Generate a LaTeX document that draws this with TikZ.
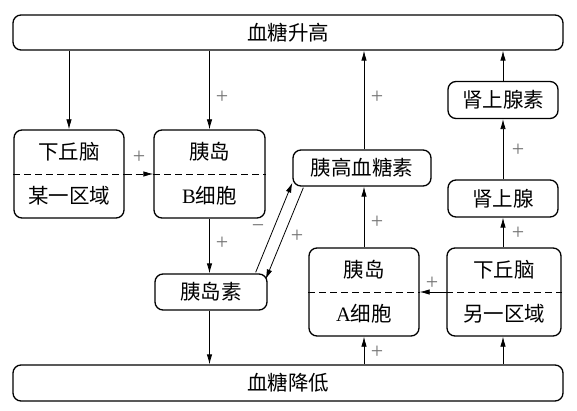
\documentclass[tikz,border=0pt]{standalone}
\usepackage{fontspec}
\setmainfont{Liberation Serif}
\newfontfamily\cjk{Noto Sans CJK SC}
\usetikzlibrary{arrows.meta,calc}
\begin{document}
\begin{tikzpicture}[x=1pt,y=-1pt,
  box/.style={draw, rounded corners=8pt, line width=1.3pt, inner sep=0pt},
  lbl/.style={inner sep=0pt, font=\fontsize{20.5}{20.5}\selectfont},
  arr/.style={-{Latex[length=10pt,width=5.5pt]}, line width=0.8pt},
  sign/.style={inner sep=0pt, text=black!55, font=\fontsize{22}{22}\selectfont},
  half/.style={line width=0.8pt, dash pattern=on 7pt off 4pt}]
\useasboundingbox (0,0) rectangle (577,411);
% boxes
\node[box, minimum width=550pt, minimum height=35pt] (top) at (288,32.5) {};
\node[lbl] at (top) {\cjk 血糖升高};
\node[box, minimum width=550pt, minimum height=36pt] (bot) at (288,383) {};
\node[lbl] at (bot) {\cjk 血糖降低};
\node[box, minimum width=110pt, minimum height=88pt] (hyp1) at (69,174) {};
\node[lbl] (hyp1a) at (69,152) {\cjk 下丘脑};
\node[lbl] (hyp1b) at (69,196) {\cjk 某一区域};
\node[box, minimum width=111pt, minimum height=88pt] (B) at (209.5,174) {};
\node[lbl] (Ba) at (209.5,152) {\cjk 胰岛};
\node[lbl] (Bb) at (209.5,196) {B{\cjk 细胞}};
\node[box, minimum width=138pt, minimum height=36pt] (gluc) at (362,168) {};
\node[lbl] at (gluc) {\cjk 胰高血糖素};
\node[box, minimum width=112pt, minimum height=36pt] (ins) at (211,292) {};
\node[lbl] at (ins) {\cjk 胰岛素};
\node[box, minimum width=110pt, minimum height=88pt] (A) at (364,292) {};
\node[lbl] (Aa) at (364,270) {\cjk 胰岛};
\node[lbl] (Ab) at (364,314) {A{\cjk 细胞}};
\node[box, minimum width=114pt, minimum height=88pt] (hyp2) at (504,292) {};
\node[lbl] (hyp2a) at (504,270) {\cjk 下丘脑};
\node[lbl] (hyp2b) at (504,314) {\cjk 另一区域};
\node[box, minimum width=110pt, minimum height=37pt] (adr) at (503,198.5) {};
\node[lbl] at (adr) {\cjk 肾上腺};
\node[box, minimum width=110pt, minimum height=37pt] (adrh) at (503,100) {};
\node[lbl] at (adrh) {\cjk 肾上腺素};
% dashed dividers
\draw[half] (hyp1.west) -- (hyp1.east);
\draw[half] (B.west) -- (B.east);
\draw[half] (A.west) -- (A.east);
\draw[half] (hyp2.west) -- (hyp2.east);
% arrows
\draw[arr] (top.south -| hyp1) -- (hyp1.north);
\draw[arr] (top.south -| B) -- (B.north);
\node[sign] at (222,97) {+};
\draw[arr, half] (hyp1.east) -- (B.west);
\node[sign] at (139,157) {+};
\draw[arr] (B.south) -- (B.south |- ins.north);
\node[sign] at (222,243) {+};
\draw[arr] (B.south |- ins.south) -- (B.south |- bot.north);
\draw[arr] ($(ins.north east)+(-12,-1)$) -- ($(gluc.south west)+(0,-4)$);
\node[sign] at (258,229) {−};
\draw[arr] ($(gluc.south west)+(11,1)$) -- ($(ins.north east)+(-2,6)$);
\node[sign] at (297,236) {+};
\draw[arr] (A.north) -- (A.north |- gluc.south);
\node[sign] at (377,222) {+};
\draw[arr] (A.north |- gluc.north) -- (A.north |- top.south);
\node[sign] at (377,97) {+};
\draw[arr] (bot.north -| A) -- (A.south);
\node[sign] at (377,352) {+};
\draw[arr] (bot.north -| adr) -- (hyp2.south -| adr);
\draw[arr] (hyp2.west) -- (A.east);
\node[sign] at (432,283) {+};
\draw[arr] (hyp2.north -| adr) -- (adr.south);
\node[sign] at (518,233) {+};
\draw[arr] (adr.north) -- (adrh.south);
\node[sign] at (518,150) {+};
\draw[arr] (adrh.north) -- (adrh.north |- top.south);
\end{tikzpicture}
\end{document}
